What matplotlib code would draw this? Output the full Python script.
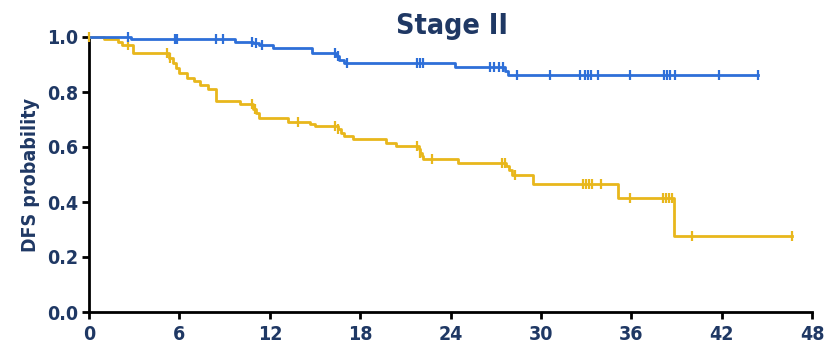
import numpy as np
import matplotlib
matplotlib.use("Agg")
import matplotlib.pyplot as plt
from matplotlib import font_manager

# Kaplan-Meier estimates, Stage II, DFS (months)
blue_event_t = [2.8, 9.7, 10.9, 11.3, 12.2, 14.8, 16.4, 16.6, 16.9, 24.3, 27.6, 27.8]
blue_event_s = [0.993, 0.983, 0.977, 0.971, 0.959, 0.941, 0.930, 0.918, 0.907, 0.890, 0.877, 0.862]
blue_censor_t = [2.6, 5.7, 5.85, 8.4, 8.9, 10.8, 11.1, 11.5, 16.3, 16.5, 17.1, 21.8, 22.0, 22.2,
                 26.6, 26.9, 27.2, 27.5, 28.4, 30.6, 32.6, 32.9, 33.1, 33.3, 33.8, 35.9,
                 38.2, 38.4, 38.6, 38.9, 41.8, 44.4]

yellow_event_t = [1.0, 1.9, 2.2, 2.9, 5.3, 5.6, 5.8, 6.0, 6.5, 7.0, 7.4, 7.9, 8.4, 10.0,
                  10.9, 11.1, 11.3, 13.2, 14.7, 15.0, 16.5, 16.7, 16.9, 17.5, 19.7, 20.4,
                  21.9, 22.0, 22.1, 22.2, 24.5, 27.7, 27.9, 28.1, 29.5, 35.1, 38.85]
yellow_event_s = [0.993, 0.982, 0.970, 0.941, 0.923, 0.906, 0.889, 0.870, 0.852, 0.840,
                  0.826, 0.810, 0.767, 0.755, 0.740, 0.725, 0.705, 0.692, 0.682, 0.675,
                  0.664, 0.652, 0.640, 0.628, 0.616, 0.604, 0.592, 0.580, 0.568, 0.556,
                  0.543, 0.530, 0.516, 0.498, 0.466, 0.414, 0.277]
yellow_censor_t = [0.0, 2.6, 5.2, 5.4, 10.8, 11.0, 13.9, 16.3, 16.5, 21.8, 22.0, 22.8,
                   27.4, 27.6, 28.3, 32.8, 33.0, 33.2, 33.4, 34.0, 35.9,
                   38.1, 38.3, 38.5, 38.7, 40.0, 46.7]

x_ticks = [0, 6, 12, 18, 24, 30, 36, 42, 48]
y_ticks = [0.0, 0.2, 0.4, 0.6, 0.8, 1.0]

BLUE = "#2E6FD8"
YELLOW = "#E8B71C"
NAVY = "#1F3864"

# condensed bold face for all labels
fp = font_manager.FontProperties(family="DejaVu Sans", stretch="condensed", weight="bold")
plt.rcParams["font.family"] = ["DejaVu Sans"]
plt.rcParams["font.stretch"] = "condensed"
plt.rcParams["font.weight"] = "bold"


def km_curve(ax, ev_t, ev_s, cen_t, color):
    end = max(max(cen_t), max(ev_t))
    t = np.r_[0.0, ev_t, end]
    s = np.r_[1.0, ev_s, ev_s[-1]]
    ax.step(t, s, where="post", color=color, lw=2.0, clip_on=False, zorder=3)
    # survival level at each censoring time
    idx = np.searchsorted(np.asarray(ev_t), np.asarray(cen_t), side="right")
    s_c = np.r_[1.0, ev_s][idx]
    ax.plot(cen_t, s_c, ls="none", marker="|", ms=7, mew=1.6, color=color,
            clip_on=False, zorder=4)


fig = plt.figure(figsize=(8.24, 3.45), dpi=100)
ax = fig.add_axes([89 / 824, 1 - 312 / 345, (812 - 89) / 824, (312 - 37) / 345])

km_curve(ax, yellow_event_t, yellow_event_s, yellow_censor_t, YELLOW)
km_curve(ax, blue_event_t, blue_event_s, blue_censor_t, BLUE)

ax.set_xlim(0, 48)
ax.set_ylim(0, 1.0)
ax.set_xticks(x_ticks)
ax.set_yticks(y_ticks)
ax.set_xticklabels([str(v) for v in x_ticks])
ax.set_yticklabels([f"{v:.1f}" for v in y_ticks])

for side in ("top", "right"):
    ax.spines[side].set_visible(False)
for side in ("left", "bottom"):
    ax.spines[side].set_linewidth(2.0)
    ax.spines[side].set_color("black")
ax.tick_params(axis="both", direction="out", length=5, width=2, color="black",
               labelcolor=NAVY)
ax.tick_params(axis="x", pad=4)
ax.tick_params(axis="y", pad=3)
for lab in ax.get_xticklabels() + ax.get_yticklabels():
    lab.set_fontproperties(fp)
    lab.set_fontsize(14)

ylab = ax.set_ylabel("DFS probability", color=NAVY, labelpad=5)
ylab.set_fontproperties(fp)
ylab.set_fontsize(14)
fig.text(452 / 824, 1 - 26 / 345, "Stage II", ha="center", va="center",
         fontproperties=fp, fontsize=20.5, color=NAVY)

fig.savefig("out.png", dpi=100)
